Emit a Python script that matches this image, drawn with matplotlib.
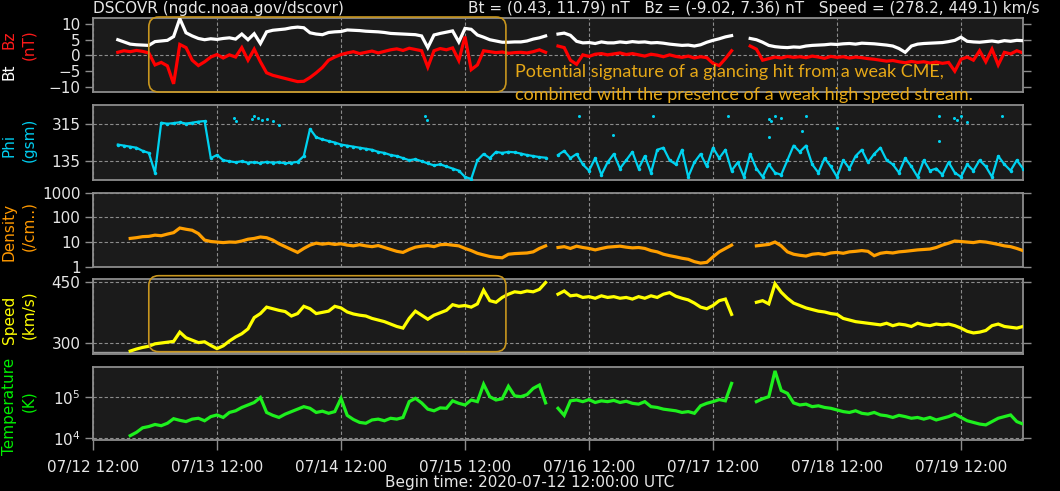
import numpy as np
import matplotlib
matplotlib.use("Agg")
import matplotlib.pyplot as plt
from matplotlib.patches import FancyBboxPatch
from matplotlib.transforms import IdentityTransform
from matplotlib.ticker import FixedLocator, NullLocator, FixedFormatter

nan = np.nan

# ---------------- data (time in days after 2020-07-12 12:00 UTC) ----------------
days = np.round(np.arange(0.20, 7.5001, 0.05), 2)   # sample times, 147 samples

tick_days = [0, 1, 2, 3, 4, 5, 6, 7]
tick_labels = ["07/12 12:00", "07/13 12:00", "07/14 12:00", "07/15 12:00",
               "07/16 12:00", "07/17 12:00", "07/18 12:00", "07/19 12:00"]

bt = [
    5.0, 4.3, 3.6, 3.4, 3.3, 3.2, 4.4, 4.6, 4.8, 6.0,
    11.7, 7.2, 6.2, 5.4, 5.0, 5.3, 5.1, 5.4, 5.6, 5.2,
    6.8, 5.0, 6.9, 3.8, 7.5, 8.0, 8.2, 8.4, 8.8, 9.0,
    8.8, 7.2, 6.8, 6.6, 7.3, 7.5, 7.6, 8.1, 8.0, 7.9,
    7.7, 7.6, 7.5, 7.3, 7.0, 6.9, 6.8, 6.7, 6.6, 6.2,
    2.5, 6.5, 7.0, 7.4, 7.8, 4.3, 8.6, 8.3, 6.5, 5.8,
    5.0, 4.6, 4.2, 4.2, 4.3, 4.3, 4.6, 5.2, 5.6, 6.2,
    nan, 6.8, 7.1, 6.4, 4.5, 4.0, 4.1, 3.8, 4.3, 4.0,
    4.0, 4.3, 4.1, 4.4, 4.2, 4.3, 4.0, 4.1, 3.9, 3.6,
    3.4, 3.2, 3.3, 3.0, 3.4, 4.2, 4.8, 5.3, 5.9, 6.3,
    nan, nan, 5.4, 5.0, 4.2, 3.2, 2.8, 2.6, 2.5, 2.7,
    2.6, 3.0, 3.2, 3.3, 3.4, 3.6, 3.5, 3.7, 3.8, 3.6,
    3.9, 3.8, 3.7, 3.5, 3.3, 3.0, 2.2, 1.0, 3.0, 3.6,
    3.8, 3.9, 4.0, 4.1, 4.4, 4.8, 5.8, 4.5, 4.3, 4.2,
    4.4, 4.6, 4.3, 4.7, 4.5, 4.8, 4.7]

bz = [
    1.0, 1.5, 1.2, 1.6, 1.3, 0.8, -3.0, -2.2, -3.3, -9.0,
    3.5, 2.5, -1.5, -3.2, -2.0, -0.5, 0.3, -0.8, 0.2, -0.5,
    2.5, -1.5, 2.0, -2.0, -5.5, -6.3, -6.8, -7.3, -7.8, -8.3,
    -8.2, -7.0, -5.5, -3.8, -1.5, -0.5, 0.3, 0.8, 1.2, 0.6,
    1.0, 1.4, 0.8, 1.3, 1.8, 2.1, 1.6, 2.3, 1.9, 1.5,
    -3.7, 1.5, 2.2, 1.8, 2.4, -1.6, 6.0, -4.5, -3.0, 1.5,
    1.2, 0.9, 1.1, 0.7, 0.9, 1.0, 0.8, 1.2, 1.8, 1.0,
    nan, 3.0, 2.5, -1.5, -2.8, 0.2, -0.3, 0.4, 0.6, 0.2,
    0.5, 0.8, 0.3, 0.6, 0.2, -0.2, 0.4, 0.1, -0.4, 0.2,
    -0.3, -0.6, -0.2, -0.8, -0.4, -0.7, -2.5, -3.2, -1.0, 1.5,
    nan, nan, 3.0, 2.0, -1.5, -1.0, -0.5, -0.8, -0.3, -0.6,
    -0.4, -0.7, -0.2, -0.5, -0.9, -0.3, -0.6, -0.4, -0.8, -0.5,
    -0.7, -1.0, -1.2, -1.5, -1.8, -1.6, -2.0, -2.3, -1.9, -2.2,
    -2.0, -2.4, -2.1, -2.5, -2.2, -5.0, -1.2, -0.5, -1.5, 1.5,
    -2.0, 2.0, -3.0, 1.0, 0.5, 1.5, 0.8]

phi = [
    215, 210, 205, 200, 185, 175, 80, 320, 315, 318,
    322, 316, 320, 325, 328, 150, 165, 140, 135, 130,
    135, 128, 130, 126, 132, 128, 130, 125, 128, 132,
    160, 290, 250, 240, 232, 225, 215, 210, 205, 200,
    195, 190, 180, 175, 165, 160, 150, 140, 145, 135,
    125, 115, 120, 110, 100, 90, 60, 50, 140, 170,
    150, 180, 175, 180, 178, 172, 165, 160, 155, 152,
    nan, 165, 185, 150, 170, 120, 90, 150, 70, 130,
    170, 100, 140, 180, 100, 160, 80, 190, 200, 140,
    120, 190, 60, 130, 170, 110, 200, 150, 190, 90,
    130, 60, 170, 100, 60, 120, 80, 70, 140, 210,
    180, 210, 120, 80, 150, 110, 60, 140, 100, 160,
    190, 130, 170, 200, 140, 120, 80, 150, 110, 60,
    140, 90, 100, 70, 130, 80, 60, 120, 90, 140,
    110, 60, 160, 120, 90, 140, 100]

phi_extra_t = [1.14, 1.15, 1.28, 1.30, 1.33, 1.36, 1.40, 1.45, 1.50, 2.68, 2.69,
               3.92, 4.19, 4.52, 5.12, 5.45, 5.47, 5.50, 5.55, 5.45, 5.72, 5.75,
               6.00, 6.82, 6.82, 6.94, 6.97, 7.00, 7.05, 7.33]
phi_extra_v = [345, 330, 340, 350, 345, 335, 340, 330, 310, 350, 335,
               350, 263, 350, 350, 340, 330, 350, 345, 250, 280, 350,
               295, 350, 230, 345, 335, 350, 325, 350]

density = [
    nan, nan, 14, 15, 16.5, 17, 19, 18, 21, 24,
    37, 33, 30, 22, 12, 10.5, 10, 9.5, 10, 9.8,
    11, 13, 14, 16, 15, 12, 8.5, 6.5, 5.0, 3.8,
    5.5, 7.5, 9.0, 8.2, 8.8, 8.0, 8.5, 7.5, 7.0, 7.8,
    7.0, 6.5, 7.2, 6.0, 5.0, 4.2, 3.8, 5.0, 6.2, 6.8,
    7.2, 6.5, 7.8, 8.0, 7.5, 7.0, 5.5, 4.5, 3.5, 3.0,
    2.6, 2.4, 2.3, 3.2, 3.4, 3.5, 3.6, 4.0, 5.5, 7.0,
    nan, 6.0, 6.5, 5.5, 6.8, 6.0, 5.5, 4.8, 5.5, 6.2,
    6.5, 6.8, 6.2, 5.8, 6.0, 5.5, 4.5, 4.0, 3.2, 2.8,
    2.5, 2.2, 2.0, 1.6, 1.4, 1.5, 2.5, 4.0, 5.5, 7.5,
    nan, nan, nan, 7.0, 7.5, 8.0, 10.0, 7.0, 4.0, 3.2,
    2.9, 2.7, 3.2, 3.4, 3.1, 3.6, 3.8, 3.5, 4.0, 4.2,
    4.5, 4.2, 2.8, 3.5, 3.8, 3.6, 4.0, 4.2, 4.5, 4.8,
    5.0, 5.2, 6.0, 7.5, 9.0, 11.0, 10.5, 10.0, 9.5, 10.5,
    10.0, 9.0, 8.0, 7.0, 6.5, 5.5, 4.5]

speed = [
    nan, nan, 279, 284, 288, 291, 297, 299, 301, 303,
    326, 312, 306, 300, 302, 293, 285, 292, 304, 314,
    322, 334, 362, 372, 388, 384, 380, 377, 366, 372,
    390, 384, 372, 375, 378, 390, 386, 376, 371, 368,
    366, 360, 356, 352, 346, 340, 336, 360, 378, 368,
    358, 368, 374, 380, 394, 390, 392, 388, 396, 430,
    404, 400, 412, 420, 426, 424, 428, 426, 432, 449,
    nan, 420, 428, 416, 418, 412, 414, 410, 416, 412,
    414, 410, 412, 408, 414, 410, 416, 412, 420, 424,
    415, 410, 406, 398, 388, 384, 392, 404, 408, 370,
    nan, nan, nan, 400, 404, 396, 446, 425, 410, 398,
    392, 386, 382, 378, 376, 372, 370, 360, 356, 352,
    350, 348, 346, 344, 348, 342, 346, 344, 340, 348,
    344, 342, 346, 344, 346, 342, 336, 328, 324, 326,
    330, 342, 346, 340, 338, 336, 340]

temperature = [
    nan, nan, 11500, 13800, 17800, 19100, 21400, 20000, 22900, 29500,
    26900, 25100, 28800, 30200, 26300, 33100, 36300, 31600, 41700, 45700,
    55000, 63100, 72400, 95500, 41700, 35500, 31600, 38000, 43700, 50100,
    57500, 52500, 41700, 44700, 39800, 43700, 91200, 35500, 28200, 24000,
    22900, 27500, 28800, 26300, 30200, 28800, 31600, 75900, 91200, 70800,
    50100, 45700, 53700, 52500, 79400, 69200, 63100, 83200, 75900, 199500,
    100000, 83200, 89100, 177800, 104700, 100000, 112200, 158500, 190500, 70800,
    nan, 52500, 35500, 79400, 83200, 75900, 85100, 72400, 79400, 75900,
    81300, 72400, 77600, 69200, 66100, 75900, 57500, 55000, 50100, 47900,
    45700, 41700, 43700, 39800, 60300, 69200, 75900, 85100, 79400, 208900,
    nan, nan, nan, 75900, 89100, 100000, 416900, 141300, 120200, 70800,
    63100, 66100, 57500, 60300, 55000, 52500, 47900, 43700, 41700, 45700,
    39800, 38000, 41700, 36300, 34700, 31600, 35500, 33100, 30200, 31600,
    28800, 31600, 27500, 30200, 33100, 38000, 31600, 26300, 24000, 21900,
    20900, 25100, 30200, 33100, 36300, 25100, 21900]

highlight_days = (0.45, 3.33)

header_left = "DSCOVR (ngdc.noaa.gov/dscovr)"
header_right = "Bt = (0.43, 11.79) nT   Bz = (-9.02, 7.36) nT   Speed = (278.2, 449.1) km/s"
footer = "Begin time: 2020-07-12 12:00:00 UTC"
note_lines = ["Potential signature of a glancing hit from a weak CME,",
              "combined with the presence of a weak high speed stream."]

# ---------------- style ----------------
plt.rcParams['font.family'] = ['DejaVu Sans']
W_PX, H_PX = 1060, 491
fig = plt.figure(figsize=(W_PX / 100, H_PX / 100), dpi=100, facecolor='black')

FACE = '#1b1b1b'
SPINE = '#8c8c8c'
TXT = '#e6e6e6'
GRID = '#8c8c8c'
LW = 2.3

L = 93 / W_PX
WID = 930 / W_PX


def add(top, bot):
    return fig.add_axes([L, 1 - bot / H_PX, WID, (bot - top) / H_PX])


ax1 = add(18.3, 91.7)
ax2 = add(105, 180)
ax3 = add(192.7, 266.7)
ax4 = add(279.3, 354.3)
ax5 = add(367.3, 439.5)
axes = [ax1, ax2, ax3, ax4, ax5]

for ax in axes:
    ax.set_facecolor(FACE)
    for s in ax.spines.values():
        s.set_color(SPINE)
        s.set_linewidth(1.3)
    ax.set_xlim(0, 7.5)
    ax.set_xticks(tick_days)
    ax.set_axisbelow(True)
    ax.grid(True, axis='x', color=GRID, linestyle=(0, (3, 2)), linewidth=0.8)
    ax.tick_params(axis='y', which='major', left=True, right=True, direction='out',
                   length=6, width=1.0, color=SPINE, labelcolor=TXT, labelsize=11, pad=3)
    ax.tick_params(axis='y', which='minor', left=False, right=False)
    ax.tick_params(axis='x', which='both', length=0, labelbottom=False)

grid_kw = dict(color=GRID, linestyle=(0, (3, 2)), linewidth=0.8)

# Panel 1: Bt / Bz
ax1.plot(days, bt, color='white', lw=LW, zorder=3, solid_joinstyle='miter')
ax1.plot(days, bz, color='#ff0000', lw=LW, zorder=2.5, solid_joinstyle='miter')
ax1.set_ylim(-11.5, 11.8)
ax1.set_yticks([-10, -5, 0, 5, 10])
ax1.axhline(0, zorder=1, **grid_kw)

# Panel 2: Phi
ax2.plot(days, phi, color='#00d2f0', lw=1.6, marker='.', ms=3, zorder=3)
ax2.plot(phi_extra_t, phi_extra_v, linestyle='none', marker='o', ms=2.2, mew=0,
         color='#00d2f0', zorder=3)
ax2.set_ylim(45, 405)
ax2.set_yticks([135, 315])
ax2.grid(True, axis='y', **grid_kw)

# Panel 3: Density
ax3.plot(days, density, color='#ff9f00', lw=LW, zorder=3, solid_joinstyle='miter')
ax3.set_yscale('log')
ax3.set_ylim(1, 1000)
ax3.yaxis.set_major_locator(FixedLocator([1, 10, 100, 1000]))
ax3.yaxis.set_major_formatter(FixedFormatter(['1', '10', '100', '1000']))
ax3.yaxis.set_minor_locator(NullLocator())
ax3.grid(True, axis='y', **grid_kw)

# Panel 4: Speed
ax4.plot(days, speed, color='#ffff00', lw=LW, zorder=3, solid_joinstyle='miter')
ax4.set_ylim(271, 457)
ax4.set_yticks([300, 450])
ax4.grid(True, axis='y', **grid_kw)
ax4.axhline(277, color='#9a9a9a', lw=1.0, zorder=1)

# Panel 5: Temperature
ax5.plot(days, temperature, color='#1ef01e', lw=LW, zorder=3, solid_joinstyle='miter')
ax5.set_yscale('log')
ax5.set_ylim(9300, 510000)
ax5.yaxis.set_major_locator(FixedLocator([1e4, 1e5]))
ax5.yaxis.set_major_formatter(FixedFormatter([r'$10^4$', r'$10^5$']))
ax5.yaxis.set_minor_locator(NullLocator())
ax5.grid(True, axis='y', **grid_kw)
ax5.set_xticklabels(tick_labels)
ax5.tick_params(axis='x', which='major', length=7, width=1.0, color=SPINE,
                labelbottom=True, labelcolor=TXT, labelsize=11, pad=8)

# ---------------- y labels ----------------
def ylab(x, y, s, c):
    fig.text(x / W_PX, 1 - y / H_PX, s, color=c, rotation=90, ha='center',
             va='center', fontsize=11)

ylab(9, 72, "Bt", 'white')
ylab(9, 40, "Bz", '#ff1a1a')
ylab(29, 45, "(nT)", '#ff1a1a')
ylab(9, 145, "Phi", '#00ccee')
ylab(29, 140, "(gsm)", '#00ccee')
ylab(9.5, 232, "Density", '#ff9900')
ylab(29, 226, "(/cm..)", '#ff9900')
ylab(9.5, 320, "Speed", '#ffff00')
ylab(29, 315, "(km/s)", '#ffff00')
ylab(9.5, 406, "Temperature", '#00ee00')
ylab(29, 401, "(K)", '#00ee00')

# ---------------- header / footer ----------------
fig.text(93 / W_PX, 1 - 8 / H_PX, header_left, color=TXT, fontsize=11, ha='left', va='center')
fig.text(1040 / W_PX, 1 - 8 / H_PX, header_right, color=TXT, fontsize=11, ha='right', va='center')
fig.text(530 / W_PX, 1 - 482 / H_PX, footer, color=TXT, fontsize=11, ha='center', va='center')

# ---------------- highlight boxes ----------------
BOX = '#c8961e'
x0 = ax1.transData.transform((highlight_days[0], 0))[0]
x1 = ax1.transData.transform((highlight_days[1], 0))[0]
for top, bot in [(17, 92), (275.7, 351.7)]:
    p = FancyBboxPatch((x0, H_PX - bot), x1 - x0, bot - top,
                       boxstyle="round,pad=0,rounding_size=10",
                       transform=IdentityTransform(), fill=False, ec=BOX, lw=1.2,
                       zorder=10, clip_on=False)
    fig.add_artist(p)

for i, line in enumerate(note_lines):
    fig.text(515 / W_PX, 1 - (72 + 23 * i) / H_PX, line, color='#e6a817', fontsize=13.0,
             family=['Lato', 'DejaVu Sans'], ha='left', va='center', zorder=11)

fig.savefig("out.png", dpi=100, facecolor='black')
